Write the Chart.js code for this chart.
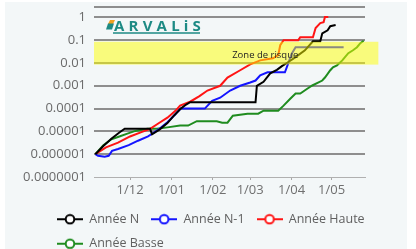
<!DOCTYPE html>
<html><head><meta charset="utf-8">
<script src="https://cdn.jsdelivr.net/npm/chart.js@4.4.0/dist/chart.umd.min.js"></script>
<style>
html,body{margin:0;padding:0;overflow:hidden;background:#fff;width:416px;height:249px;position:relative}
#panel{position:absolute;left:5px;top:2px;width:402px;height:258px;background:#f3f7f8}
#c{position:absolute;left:0;top:0;display:block}
</style>
</head><body><div id="panel"></div><canvas id="c" width="416" height="260"></canvas>
<script>
// X axis: days counted from 1 December
const monthTickDays = [0, 31, 62, 90, 121, 151];
const monthTickLabels = ['1/12', '1/01', '1/02', '1/03', '1/04', '1/05'];
const yTickValues = [1e-7, 1e-6, 1e-5, 1e-4, 1e-3, 1e-2, 1e-1, 1];
const yTickLabels = ['0.0000001', '0.000001', '0.00001', '0.0001', '0.001', '0.01', '0.1', '1'];
const seriesNames = ['Année N', 'Année N-1', 'Année Haute', 'Année Basse'];

const nDays   = [-26,-20,-14,-8,-4,15,16.5,22,28,33,38,42,45,94,95,100,105,110,114,118,124,131,137,142.5,144,148,150,154];
const nValues = [1e-6,2.3e-6,4.8e-6,9e-6,1.3e-5,1.3e-5,7.5e-6,1.2e-5,2.3e-5,5e-5,1e-4,1.5e-4,1.9e-4,1.9e-4,1e-3,1.5e-3,3.5e-3,5e-3,7.5e-3,1.05e-2,1.8e-2,3.6e-2,9e-2,9e-2,0.2,0.27,0.41,0.46];

const n1Days   = [-26,-24,-19,-16,-13.5,-9,-1,6,13.5,16.5,22,28,33,38,56,61.5,67.5,75,82.5,90,94,97.5,103,116,118.5,121,124,160];
const n1Values = [1e-6,8.5e-7,7.8e-7,8.5e-7,1.4e-6,1.7e-6,2.5e-6,3.9e-6,6e-6,7.9e-6,1.3e-5,2.5e-5,5e-5,1e-4,1e-4,2.2e-4,3e-4,6.2e-4,1e-3,1.4e-3,1.7e-3,2.9e-3,3.9e-3,3.9e-3,9.6e-3,2.5e-2,4.9e-2,4.9e-2];

const hauteDays   = [-26,-18,-9,0,8,15,22,28,34,37.5,45,52,58,67.5,73,82.5,90,97.5,107,111,112.5,115,126,127.5,137,139,142.5,145,146,148.5];
const hauteValues = [1e-6,2e-6,3.2e-6,6e-6,9e-6,1.3e-5,2.4e-5,4e-5,8e-5,1.35e-4,2e-4,3.5e-4,6.2e-4,1e-3,2.3e-3,4.8e-3,8.7e-3,1.3e-2,1.6e-2,2.2e-2,6e-2,0.1,0.1,0.135,0.135,0.34,0.56,0.62,1.03,1.03];

const basseDays   = [-26,-20,-14,-8,-2,4,13,20,28,37.5,43.5,50,65,69,73,77,88,96,100,111,115,120,124,127.5,133,136.5,144,146,150,152,155,159,161,163.5,167,170,172.5,175];
const basseValues = [1e-6,2.5e-6,4.5e-6,6e-6,8e-6,1.05e-5,1.3e-5,1.3e-5,1.5e-5,1.8e-5,1.8e-5,2.8e-5,2.8e-5,2.4e-5,2.4e-5,4.9e-5,6e-5,6e-5,8.1e-5,8.1e-5,1.35e-4,2.7e-4,4.6e-4,4.6e-4,7.6e-4,1.03e-3,1.7e-3,2.3e-3,4.8e-3,6.5e-3,7.9e-3,1.3e-2,1.8e-2,2.7e-2,3.6e-2,4.9e-2,7.4e-2,9.5e-2];

// risk zone (days, values)
const zoneDays = [-27, 186];
const zoneValues = [0.0085, 0.085];
const zoneLabel = 'Zone de risque';
const zoneLabelPos = [76.5, 0.0217];

const FONT = '"Open Sans", "Noto Sans", sans-serif';

function legendSymbol(color) {
  const cv = document.createElement('canvas');
  cv.width = 26; cv.height = 12;
  const g = cv.getContext('2d');
  g.strokeStyle = color; g.lineWidth = 2;
  g.beginPath(); g.moveTo(0, 6); g.lineTo(26, 6); g.stroke();
  g.fillStyle = '#fff';
  g.beginPath(); g.arc(13, 6, 4.3, 0, Math.PI * 2); g.fill(); g.stroke();
  return cv;
}
function pts(d, v) { return d.map((x, i) => ({x: x, y: v[i]})); }

const colors = ['#000000', '#1414ff', '#ff1414', '#1f8c1f'];
const series = [[nDays, nValues], [n1Days, n1Values], [hauteDays, hauteValues], [basseDays, basseValues]];

const zonePlugin = {
  id: 'zone',
  afterDatasetsDraw(chart) {
    const c = chart.ctx, xs = chart.scales.x, ys = chart.scales.y;
    c.save();
    const l = xs.getPixelForValue(zoneDays[0]), r = xs.getPixelForValue(zoneDays[1]);
    const t = ys.getPixelForValue(zoneValues[1]), b = ys.getPixelForValue(zoneValues[0]);
    c.fillStyle = 'rgba(255,255,0,0.5)';
    c.fillRect(l, t, r - l, b - t);
    c.fillStyle = '#222';
    c.font = '9.5px ' + FONT;
    c.textAlign = 'left';
    c.textBaseline = 'middle';
    c.fillText(zoneLabel, xs.getPixelForValue(zoneLabelPos[0]), ys.getPixelForValue(zoneLabelPos[1]));
    // logo
    c.fillStyle = '#f0a020';
    c.beginPath(); c.moveTo(110, 20); c.lineTo(115, 20); c.lineTo(113, 24); c.lineTo(108, 24); c.closePath(); c.fill();
    c.fillStyle = '#1d8a84';
    c.beginPath(); c.moveTo(108, 23.5); c.lineTo(114, 23.5); c.lineTo(112, 29.5); c.lineTo(106, 29.5); c.closePath(); c.fill();
    c.font = 'bold 15px ' + FONT;
    c.textBaseline = 'alphabetic';
    const letters = 'ARVALiS';
    let px = 114;
    for (const ch of letters) { c.fillText(ch, px, 30.5); px += c.measureText(ch).width + 4.2; }
    c.strokeStyle = '#1d8a84'; c.lineWidth = 1.5;
    c.beginPath(); c.moveTo(113, 33); c.lineTo(200, 33); c.stroke();
    c.restore();
  }
};
const legendShift = {
  id: 'legendShift',
  afterLayout(chart) { if (chart.legend) chart.legend.left = 45; }
};

new Chart(document.getElementById('c'), {
  type: 'line',
  data: {
    datasets: series.map((s, i) => ({
      label: seriesNames[i],
      data: pts(s[0], s[1]),
      borderColor: colors[i],
      backgroundColor: '#fff',
      borderWidth: 2,
      pointRadius: 0,
      pointHoverRadius: 0,
      pointStyle: legendSymbol(colors[i]),
      tension: 0,
      fill: false
    }))
  },
  options: {
    responsive: false,
    animation: false,
    devicePixelRatio: 1,
    layout: {padding: {left: 5, right: 10, top: 7, bottom: 0}},
    plugins: {
      tooltip: {enabled: false},
      legend: {
        position: 'bottom',
        align: 'start',
        labels: {usePointStyle: true, pointStyleWidth: 26, padding: 12, color: '#606060',
                 font: {family: FONT, size: 12.5}}
      }
    },
    scales: {
      x: {
        type: 'linear', min: -27, max: 176,
        afterBuildTicks(s) { s.ticks = monthTickDays.map(v => ({value: v})); },
        afterFit(s) { s.height = 24; },
        ticks: {autoSkip: false, maxRotation: 0, padding: 2, color: '#707070', font: {family: FONT, size: 13},
                callback(v) { const i = monthTickDays.indexOf(v); return i >= 0 ? monthTickLabels[i] : ''; }},
        grid: {drawOnChartArea: false, drawTicks: true, tickLength: 3, color: '#a8a8a8'},
        border: {display: true, color: '#b0b0b0', width: 1}
      },
      y: {
        type: 'logarithmic', min: 1e-7, max: 2.85,
        afterBuildTicks(s) { s.ticks = yTickValues.concat([2.85]).map(v => ({value: v})); },
        afterFit(s) { s.width = 89; s.paddingTop = 0; s.paddingBottom = 0; },
        ticks: {padding: 8, color: '#6a6a6a', font: {family: FONT, size: 13},
                callback(v) { const i = yTickValues.indexOf(v); return i >= 0 ? yTickLabels[i] : ''; }},
        grid: {drawTicks: false, lineWidth: 2,
               color(ctx) { return (ctx.tick && ctx.tick.value === 1e-7) ? 'rgba(0,0,0,0)' : '#8e8e8e'; }},
        border: {display: false}
      },
      yR: {
        type: 'linear', position: 'right', display: true,
        afterFit(s) { s.width = 41; },
        ticks: {display: false},
        grid: {display: false},
        border: {display: false}
      }
    }
  },
  plugins: [zonePlugin, legendShift]
});
</script>
</body></html>
